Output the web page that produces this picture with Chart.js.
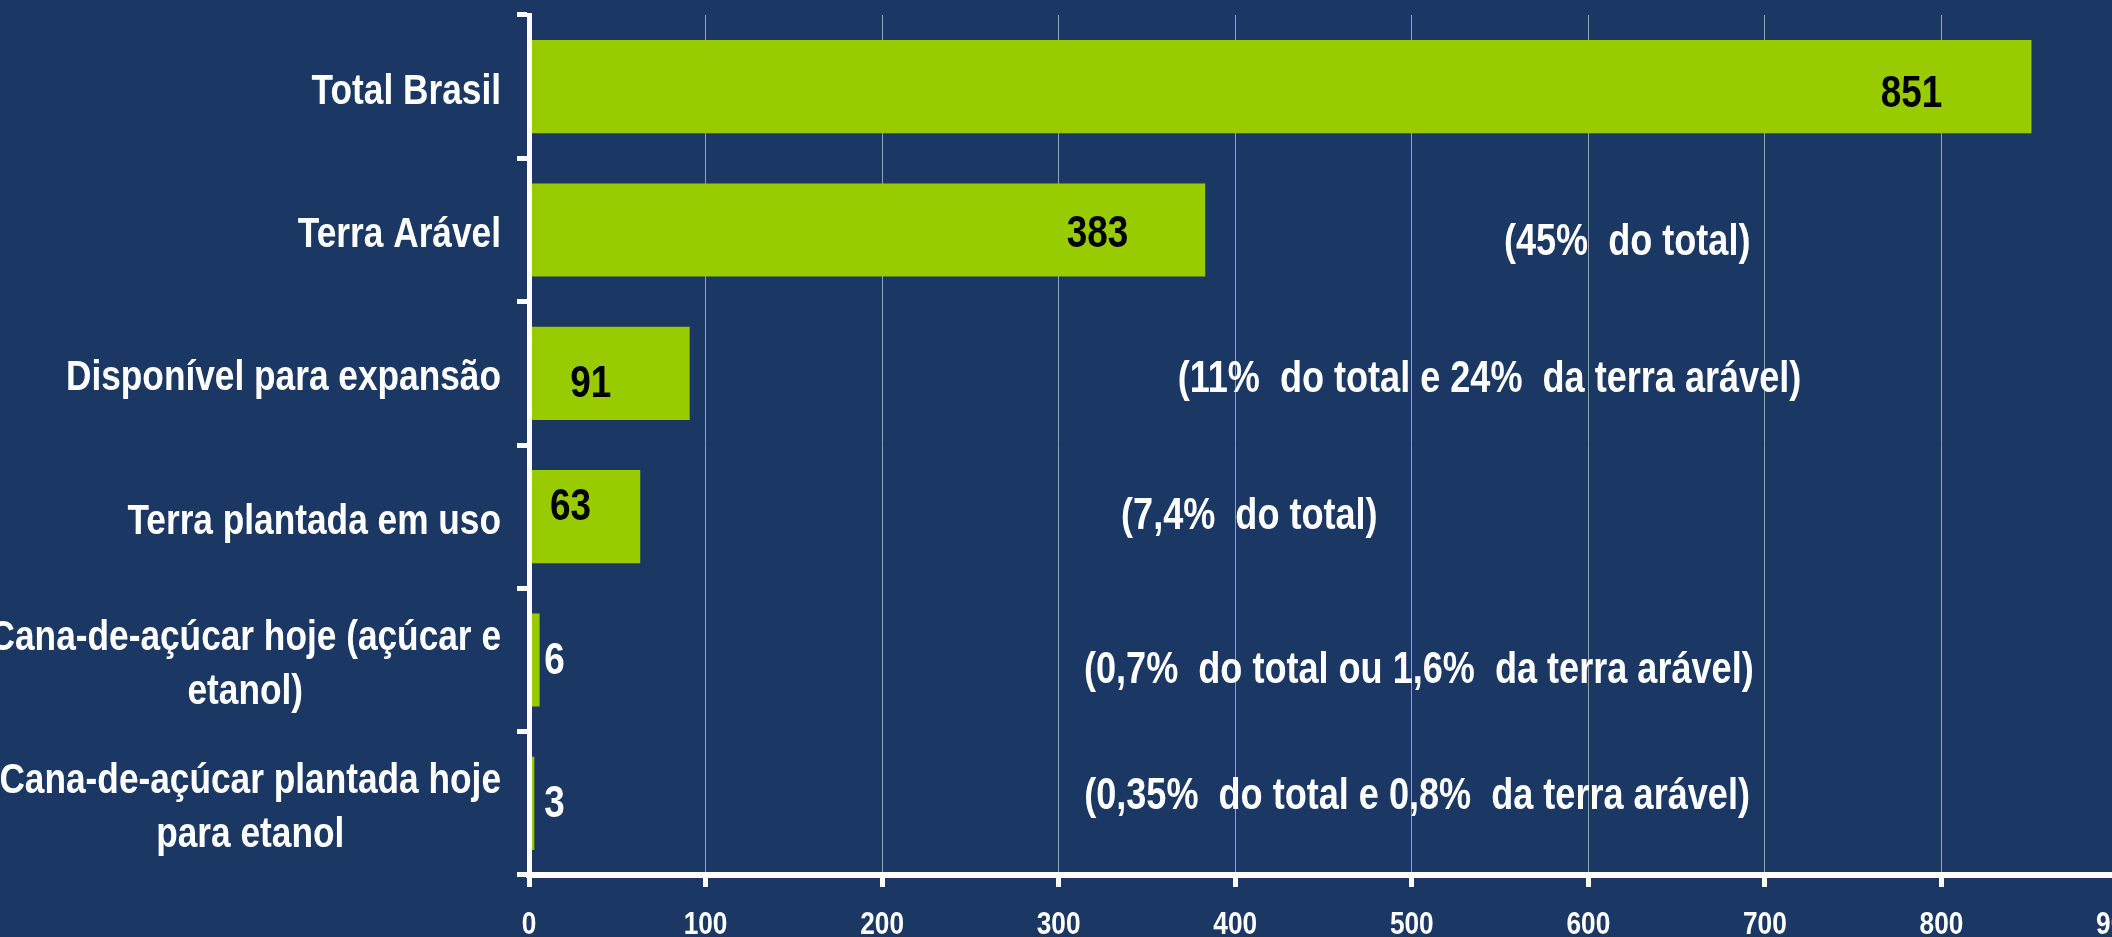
<!DOCTYPE html>
<html><head><meta charset="utf-8">
<script src="https://cdn.jsdelivr.net/npm/chart.js@4.4.1/dist/chart.umd.min.js"></script>
<style>
html,body{margin:0;padding:0;width:2112px;height:937px;overflow:hidden;background:#1b3864;}
#wrap{position:absolute;left:-100px;top:0;width:2252px;height:937px;}
</style></head><body>
<div id="wrap"><canvas id="c"></canvas></div>
<script>
// ---- data ----
const categories = [
  ["Total Brasil"],
  ["Terra Arável"],
  ["Disponível para expansão"],
  ["Terra plantada em uso"],
  ["Cana-de-açúcar hoje (açúcar e", "etanol)"],
  ["Cana-de-açúcar plantada hoje", "para etanol"]
];
const areaMillionHa = [851, 383, 91, 63, 6, 3];
const valueLabels = ["851", "383", "91", "63", "6", "3"];
const notes = [
  "",
  "(45%  do total)",
  "(11%  do total e 24%  da terra arável)",
  "(7,4%  do total)",
  "(0,7%  do total ou 1,6%  da terra arável)",
  "(0,35%  do total e 0,8%  da terra arável)"
];
const xTickValues = [0, 100, 200, 300, 400, 500, 600, 700, 800, 900];
const xTickLabels = ["0", "100", "200", "300", "400", "500", "600", "700", "800", "900"];

// ---- label placement (in axis units / px shifts) ----
const valueLabelAt = [783, 322, 35, 23.5, 14.4, 14.4];
const valueLabelShift = [8, 5, 11, -9, 2, 1];
const valueLabelColor = ["#000", "#000", "#000", "#000", "#fff", "#fff"];
const noteAt = [null, 622, 544, 408, 504, 503];
const noteShift = [0, 13, 7, 0, 11, -6];

const FAM = '"Liberation Sans", Arial, sans-serif';
const NARROW = 0.82; // Arial Narrow look: horizontally condensed glyphs

function narrowText(ctx, text, x, y, align) {
  ctx.save();
  ctx.translate(x, y);
  ctx.scale(NARROW, 1);
  ctx.textAlign = align || 'center';
  ctx.textBaseline = 'middle';
  ctx.fillText(text, 0, 0);
  ctx.restore();
}

const labelPlugin = {
  id: 'customLabels',
  afterDraw(chart) {
    const ctx = chart.ctx;
    const xs = chart.scales.x, ys = chart.scales.y;
    ctx.save();
    // category labels: block right-aligned, lines centered within block
    ctx.font = 'bold 43px ' + FAM;
    ctx.fillStyle = '#ffffff';
    const rightEdge = xs.left - 28;
    const lh = 54;
    categories.forEach((lines, i) => {
      const yc = ys.getPixelForValue(i) + 5;
      let w = 0;
      lines.forEach(l => { w = Math.max(w, ctx.measureText(l).width * NARROW); });
      const cx = rightEdge - w / 2;
      const y0 = yc - (lines.length - 1) * lh / 2;
      lines.forEach((l, k) => narrowText(ctx, l, cx, y0 + k * lh));
    });
    // x tick labels
    ctx.font = 'bold 32px ' + FAM;
    xTickValues.forEach((v, i) => {
      narrowText(ctx, xTickLabels[i], xs.getPixelForValue(v), xs.top + 50);
    });
    // value labels
    ctx.font = 'bold 45px ' + FAM;
    valueLabels.forEach((t, i) => {
      ctx.fillStyle = valueLabelColor[i];
      narrowText(ctx, t, xs.getPixelForValue(valueLabelAt[i]), ys.getPixelForValue(i) + valueLabelShift[i]);
    });
    // notes
    ctx.font = 'bold 44px ' + FAM;
    ctx.fillStyle = '#ffffff';
    notes.forEach((t, i) => {
      if (!t) return;
      narrowText(ctx, t, xs.getPixelForValue(noteAt[i]), ys.getPixelForValue(i) + noteShift[i]);
    });
    ctx.restore();
  }
};

new Chart(document.getElementById('c'), {
  type: 'bar',
  data: {
    labels: categories,
    datasets: [{
      data: areaMillionHa,
      backgroundColor: '#99cc00',
      borderWidth: 0,
      barPercentage: 0.65,
      categoryPercentage: 1
    }]
  },
  options: {
    indexAxis: 'y',
    responsive: true,
    maintainAspectRatio: false,
    animation: false,
    layout: { padding: { top: 15, right: 34, left: 0, bottom: 0 } },
    plugins: { legend: { display: false }, tooltip: { enabled: false } },
    scales: {
      x: {
        type: 'linear',
        min: 0, max: 900,
        afterBuildTicks(s) { s.ticks = xTickValues.map(v => ({ value: v })); },
        ticks: { display: false },
        grid: { color: 'rgba(190,198,212,0.75)', lineWidth: 1, tickColor: '#ffffff', tickWidth: 5, tickLength: 12, drawTicks: true },
        border: { color: '#ffffff', width: 6 },
        afterFit(s) { s.height = 62; }
      },
      y: {
        ticks: { display: false },
        grid: { drawOnChartArea: false, color: '#ffffff', lineWidth: 5, tickLength: 12, offset: true, z: 1 },
        border: { color: '#ffffff', width: 5, z: 1 },
        afterFit(s) { s.width = 629; }
      }
    }
  },
  plugins: [labelPlugin]
});
</script>
</body></html>
